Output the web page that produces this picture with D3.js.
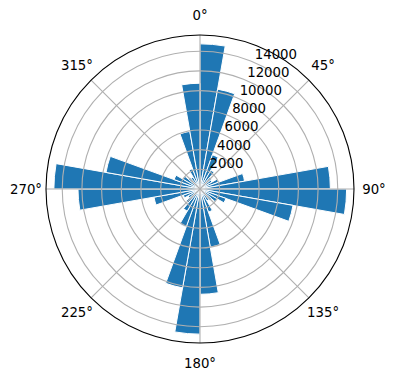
<!DOCTYPE html>
<html><head><meta charset="utf-8">
<script src="https://cdn.jsdelivr.net/npm/d3@7"></script>
<style>body{margin:0;background:#fff}svg{display:block}text{font-family:"DejaVu Sans",sans-serif;}</style>
</head><body>
<script>
// bin start angles in degrees (10° bins, clockwise from north)
const binStarts = d3.range(0, 360, 10);
const counts = [
  14750, 10300, 3700, 2200, 1500, 1400, 2000, 4600, 13250,
  14900, 9600, 2800, 2000, 1500, 1400, 2500, 6000, 10700,
  14750, 10200, 4100, 2600, 1800, 1400, 1800, 4750, 12400,
  14850, 9700, 2800, 2000, 1500, 1400, 2200, 5950, 10750
];
const radialTicks = [2000, 4000, 6000, 8000, 10000, 12000, 14000];
const angleTicks = [0, 45, 90, 135, 180, 225, 270, 315];
const binWidth = 10;
const rMax = 15650;

const W = 396, H = 380, cx = 200, cy = 189, R = 154;
const svg = d3.select("body").append("svg").attr("width", W).attr("height", H);
const g = svg.append("g").attr("transform", `translate(${cx},${cy})`);
const r = d3.scaleLinear().domain([0, rMax]).range([0, R]);
const rad = d => d * Math.PI / 180;

const arc = d3.arc().innerRadius(0);
g.selectAll("path.bar").data(binStarts.map((a, i) => ({a, v: counts[i]})))
  .join("path").attr("class", "bar")
  .attr("d", d => arc({outerRadius: r(d.v), startAngle: rad(d.a), endAngle: rad(d.a + binWidth)}))
  .attr("fill", "#1f77b4").attr("stroke", "#fff").attr("stroke-width", 1).attr("stroke-linejoin", "miter");

// grid
g.selectAll("circle.grid").data(radialTicks).join("circle").attr("class", "grid")
  .attr("r", d => r(d)).attr("fill", "none").attr("stroke", "#b0b0b0").attr("stroke-width", 1.1);
g.selectAll("line.grid").data(angleTicks).join("line").attr("class", "grid")
  .attr("x1", 0).attr("y1", 0)
  .attr("x2", d => R * Math.sin(rad(d))).attr("y2", d => -R * Math.cos(rad(d)))
  .attr("stroke", "#b0b0b0").attr("stroke-width", 1.1);

// outer frame
g.append("circle").attr("r", R).attr("fill", "none").attr("stroke", "#000").attr("stroke-width", 1.1);

// angle labels
g.selectAll("text.ang").data(angleTicks).join("text").attr("class", "ang")
  .attr("x", d => 174 * Math.sin(rad(d))).attr("y", d => -174 * Math.cos(rad(d)))
  .attr("text-anchor", "middle").attr("dominant-baseline", "central")
  .attr("font-size", 13.3).attr("fill", "#000").text(d => d + "°");

// radial labels at 22.5°
const la = rad(22.5);
g.selectAll("text.rl").data(radialTicks).join("text").attr("class", "rl")
  .attr("x", d => r(d) * Math.sin(la) + 2).attr("y", d => -r(d) * Math.cos(la) - 3)
  .attr("text-anchor", "start").attr("font-size", 13.3).attr("fill", "#000").text(d => d);
</script>
</body></html>
